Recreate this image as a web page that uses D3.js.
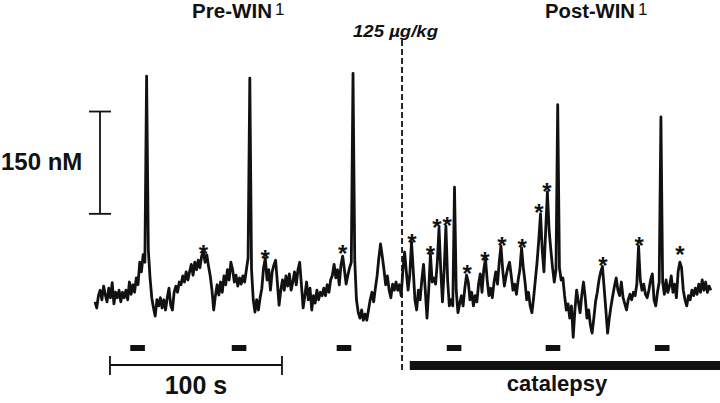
<!DOCTYPE html>
<html>
<head>
<style>
body { margin: 0; background: #fff; }
svg { display: block; font-family: "Liberation Sans", Arial, sans-serif; }
</style>
</head>
<body>
<script src="https://cdnjs.cloudflare.com/ajax/libs/d3/7.8.5/d3.min.js"></script>
<script>
// dopamine trace, one sample per second (nM above an arbitrary zero)
const trace = [
 56,47,65,73,59,79,66,56,76,62, 84,53,70,62,73,56,70,62,73,59,
 85,67,81,70,91,81,114,100,125,114, 387,132,91,62,47,35,59,50,62,47,
 59,44,62,76,51,44,70,79,70,85, 81,94,85,100,88,100,111,95,114,103,
 117,106,123,129,114,125,108,94,73,44, 65,81,66,85,70,94,81,103,88,114,
 103,85,95,79,91,82,94,85,103,120, 384,103,59,41,59,44,62,76,106,120,
 88,103,73,100,110,117,85,51,73,88, 73,94,79,97,73,85,100,81,103,114,
 81,47,65,85,59,76,44,65,54,73, 59,70,65,76,65,81,70,88,95,111,
 91,103,81,110,123,103,82,95,106,114, 391,117,59,41,32,44,29,38,29,44,
 59,70,56,76,94,120,141,123,103,81, 94,73,62,82,73,85,73,81,65,103,
 129,100,73,95,144,103,59,44,73,59, 88,111,73,32,73,126,85,91,82,114,
 164,103,56,103,167,88,50,59,50,224, 73,40,53,65,50,76,95,85,59,70,
 50,65,56,82,97,70,103,119,88,65, 76,62,85,100,82,114,138,103,79,94,
 106,114,94,73,82,67,88,103,135,106, 85,59,70,50,40,62,88,114,147,185,
 132,100,161,217,161,132,106,85,103,345, 106,88,91,65,44,53,32,50,4,44,
 73,56,40,66,85,62,32,44,22,10, 32,56,70,88,100,108,76,44,10,32,
 50,65,79,91,73,65,85,62,53,44, 59,67,59,70,65,82,138,88,73,82,
 67,62,73,88,97,59,50,70,85,327, 85,67,88,70,79,94,70,82,62,100,
 114,106,73,59,50,65,59,73,65,76, 67,82,70,88,73,85,70,79,73
];
const sampleStep = 1;

// significant transients (asterisks)
const starTimes  = [63, 99, 144, 184.3, 195, 198.8, 204.7, 216.3, 226.7, 236.6, 248.3, 258.1, 262.8, 295.3, 316.3, 340];
const starLevels = [135, 128, 135, 151, 133, 173, 176, 106, 125, 147, 144, 195, 226, 117, 147, 133];

// event markers (s)
const eventStarts = [20.5, 79.5, 140.5, 204.5, 262, 325.5];
const eventLength = 8.5;

const injectionTime = 178.5;
const catalepsyRange = [183, 364];
const timeBar = [8.7, 108.7];   // 100 s
const concBar = [185, 335];     // 150 nM

const w = 720, h = 403;

const x = d3.scaleLinear().domain([0, 358]).range([95, 710.8]);
const y = d3.scaleLinear().domain([0, 150]).range([340, 340 - 102.3]);

const svg = d3.select("body").append("svg")
  .attr("width", w)
  .attr("height", h);

const ink = "#111";

// injection line
svg.append("line")
  .attr("x1", x(injectionTime)).attr("x2", x(injectionTime))
  .attr("y1", 40).attr("y2", 372)
  .attr("stroke", ink)
  .attr("stroke-width", 1.8)
  .attr("stroke-dasharray", "6,3");

// trace
const line = d3.line()
  .x((d, i) => x(i * sampleStep))
  .y(d => y(d));

svg.append("path")
  .datum(trace)
  .attr("d", line)
  .attr("fill", "none")
  .attr("stroke", ink)
  .attr("stroke-width", 2.8)
  .attr("stroke-linejoin", "round");

// asterisks
svg.selectAll(".star")
  .data(starTimes)
  .enter()
  .append("text")
  .attr("class", "star")
  .attr("x", d => x(d))
  .attr("y", (d, i) => y(starLevels[i]) + 14)
  .attr("text-anchor", "middle")
  .attr("font-size", 24)
  .attr("font-weight", "bold")
  .attr("fill", ink)
  .text("*");

// event markers
svg.selectAll(".event")
  .data(eventStarts)
  .enter()
  .append("rect")
  .attr("class", "event")
  .attr("x", d => x(d))
  .attr("y", 345)
  .attr("width", d => x(d + eventLength) - x(d))
  .attr("height", 6)
  .attr("fill", ink);

// catalepsy bar
svg.append("rect")
  .attr("x", x(catalepsyRange[0]))
  .attr("y", 361)
  .attr("width", x(catalepsyRange[1]) - x(catalepsyRange[0]))
  .attr("height", 9)
  .attr("fill", ink);

svg.append("text")
  .attr("x", 557).attr("y", 391)
  .attr("text-anchor", "middle")
  .attr("font-size", 22)
  .attr("font-weight", "bold")
  .attr("fill", ink)
  .text("catalepsy");

// time scale bar
const tb = svg.append("g").attr("stroke", ink).attr("stroke-width", 1.8);
tb.append("line").attr("x1", x(timeBar[0])).attr("x2", x(timeBar[1])).attr("y1", 365).attr("y2", 365);
tb.append("line").attr("x1", x(timeBar[0])).attr("x2", x(timeBar[0])).attr("y1", 356).attr("y2", 375);
tb.append("line").attr("x1", x(timeBar[1])).attr("x2", x(timeBar[1])).attr("y1", 356).attr("y2", 375);

svg.append("text")
  .attr("x", (x(timeBar[0]) + x(timeBar[1])) / 2).attr("y", 394)
  .attr("text-anchor", "middle")
  .attr("font-size", 25)
  .attr("font-weight", "bold")
  .attr("fill", ink)
  .text("100 s");

// concentration scale bar
const cb = svg.append("g").attr("stroke", ink).attr("stroke-width", 1.8);
cb.append("line").attr("x1", 100).attr("x2", 100).attr("y1", y(concBar[0])).attr("y2", y(concBar[1]));
cb.append("line").attr("x1", 89).attr("x2", 111).attr("y1", y(concBar[0])).attr("y2", y(concBar[0]));
cb.append("line").attr("x1", 89).attr("x2", 111).attr("y1", y(concBar[1])).attr("y2", y(concBar[1]));

svg.append("text")
  .attr("x", 1).attr("y", 170)
  .attr("font-size", 24)
  .attr("font-weight", "bold")
  .attr("fill", ink)
  .text("150 nM");

// headers
function header(label, x0, width) {
  svg.append("text")
    .attr("x", x0).attr("y", 18)
    .attr("font-size", 20)
    .attr("font-weight", "bold")
    .attr("fill", ink)
    .attr("textLength", width)
    .attr("lengthAdjust", "spacingAndGlyphs")
    .text(label);
  svg.append("text")
    .attr("x", x0 + width + 3).attr("y", 15)
    .attr("font-size", 17)
    .attr("fill", ink)
    .text("1");
}
header("Pre-WIN", 192, 80);
header("Post-WIN", 545, 90);

svg.append("text")
  .attr("x", 353).attr("y", 37)
  .attr("font-size", 17)
  .attr("font-weight", "bold")
  .attr("font-style", "italic")
  .attr("fill", ink)
  .attr("textLength", 85)
  .attr("lengthAdjust", "spacingAndGlyphs")
  .text("125 µg/kg");
</script>
</body>
</html>
